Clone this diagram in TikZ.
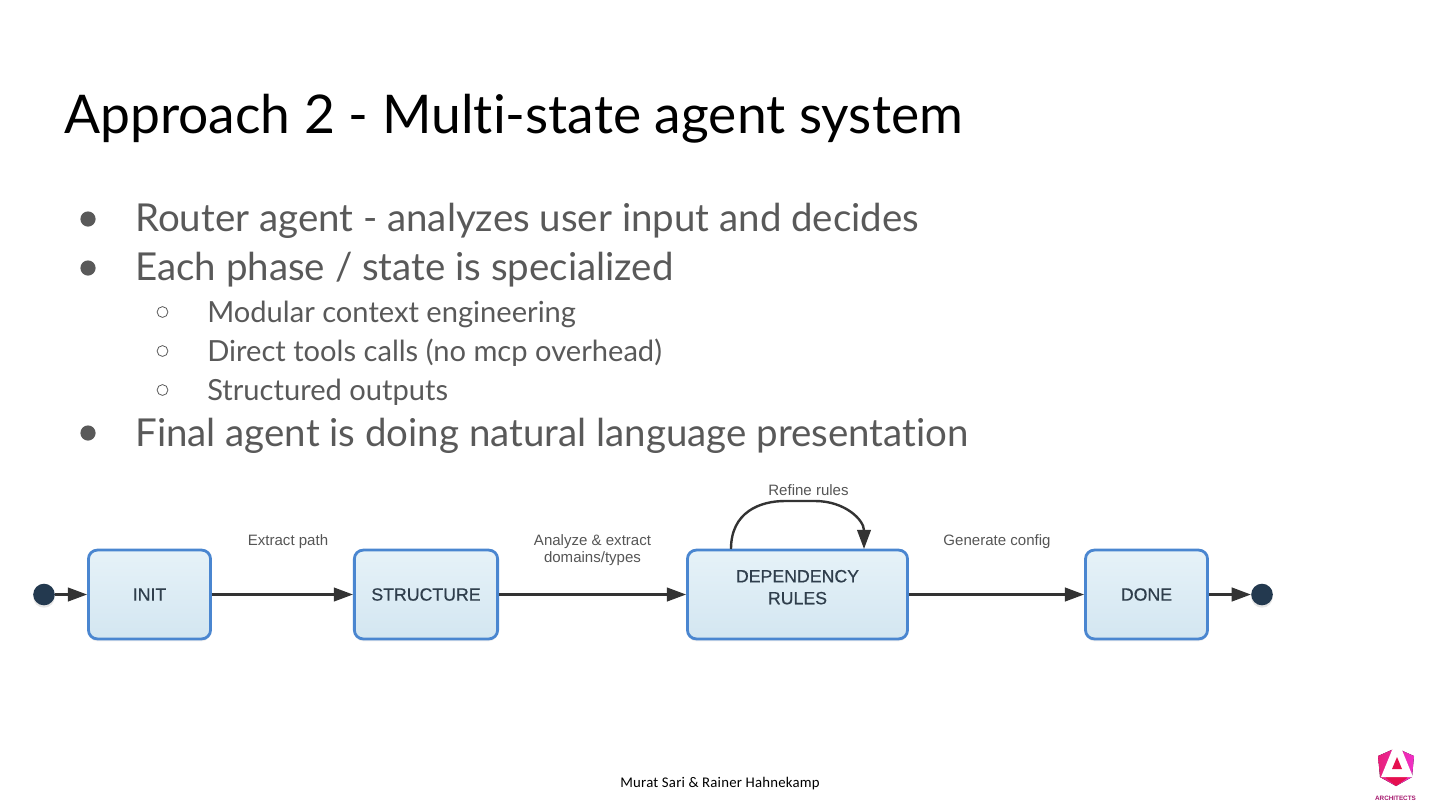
\documentclass[tikz,border=0pt]{standalone}
\usepackage{fontspec}
\setmainfont{Lato}[Ligatures=NoCommon]
\newfontfamily\diagramfont{Liberation Sans}
\newfontfamily\statefont{Liberation Sans}[FakeBold=0.6]
\newfontfamily\footerfont{Carlito}[LetterSpace=1.5]
\usepackage{tikz}
\usetikzlibrary{positioning,arrows.meta,shadows}
\definecolor{heading}{HTML}{000000}
\definecolor{bodytext}{HTML}{595959}
\definecolor{stateborder}{HTML}{4A86D0}
\definecolor{statetop}{HTML}{E6F2F8}
\definecolor{statebottom}{HTML}{D3E6F1}
\definecolor{statetext}{HTML}{2F3E4C}
\definecolor{dotfill}{HTML}{23394F}
\definecolor{edgeline}{HTML}{333333}
\definecolor{edgetext}{HTML}{555555}
\definecolor{logopink}{HTML}{E8207A}
\definecolor{logomagenta}{HTML}{F030C8}
\definecolor{logored}{HTML}{E5104F}
\definecolor{logoviolet}{HTML}{A5186E}

\begin{document}
\begin{tikzpicture}[
    x=0.025cm, y=-0.025cm,
    statenode/.style={rectangle, rounded corners=2.2mm, draw=stateborder,
      top color=statetop, bottom color=statebottom, line width=0.7mm,
      minimum height=2.22cm, align=center, text=statetext,
      font=\statefont\fontsize{12.6}{15.6}\selectfont,
      drop shadow={shadow xshift=0pt, shadow yshift=-0.6mm, opacity=0.12}},
    enddot/.style={circle, fill=dotfill, minimum size=0.54cm, inner sep=0pt,
      drop shadow={shadow xshift=0pt, shadow yshift=-0.6mm, opacity=0.2}},
    flow/.style={-{Triangle[length=4.8mm, width=3.4mm]}, line width=0.6mm, edgeline},
    edgelabel/.style={text=edgetext, align=center,
      font=\diagramfont\fontsize{10.7}{12.2}\selectfont},
    bigbullet/.style={circle, fill=bodytext, minimum size=0.38cm, inner sep=0pt},
    smallbullet/.style={circle, draw=bodytext, line width=0.2mm, minimum size=0.27cm, inner sep=0pt},
    mainitem/.style={anchor=base west, inner sep=0pt, text=bodytext, font=\fontsize{27.35}{30}\selectfont},
    subitem/.style={anchor=base west, inner sep=0pt, text=bodytext, font=\fontsize{20.7}{24}\selectfont},
  ]
  \useasboundingbox (0,0) rectangle (1440,810);

  % Title and bullet list
  \node[anchor=base west, inner sep=0pt, text=heading, font=\fontsize{37.95}{44}\selectfont]
    (title) at (64,133) {Approach 2 - Multi-state agent system};

  \node[bigbullet] (dot1) at (88,219) {};
  \node[mainitem] (item1) at (135,231) {Router agent - analyzes user input and decides};
  \node[bigbullet] (dot2) at (88,268) {};
  \node[mainitem] (item2) at (135,280) {Each phase / state is specialized};
  \node[smallbullet] (sub1) at (162.5,312) {};
  \node[subitem] (text1) at (207,322) {Modular context engineering};
  \node[smallbullet] (sub2) at (162.5,351) {};
  \node[subitem] (text2) at (207,361) {Direct tools calls (no mcp overhead)};
  \node[smallbullet] (sub3) at (162.5,390) {};
  \node[subitem] (text3) at (207,400) {Structured outputs};
  \node[bigbullet] (dot3) at (88,433) {};
  \node[mainitem] (item3) at (135,446) {Final agent is doing natural language presentation};

  % State machine
  \node[enddot] (start) at (44,594.5) {};
  \node[statenode, minimum width=3.05cm] (init) at (149.5,594.5) {INIT};
  \node[statenode, minimum width=3.58cm] (structure) at (426,594.5) {STRUCTURE};
  \node[statenode, minimum width=5.5cm, text depth=0.37cm] (rules) at (797.5,594.5) {DEPENDENCY\\RULES};
  \node[statenode, minimum width=3.05cm] (done) at (1146.5,594.5) {DONE};
  \node[enddot] (stop) at (1262,594.5) {};

  \draw[flow] (start) -- (init);
  \draw[flow] (init) -- (structure);
  \draw[flow] (structure) -- (rules);
  \draw[flow] (rules) -- (done);
  \draw[flow] (done) -- (stop);
  \coordinate (loopout) at (731,549);
  \coordinate (loopin) at (864,549);
  \draw[flow] (loopout) .. controls (731,512) and (760,501) .. (785,501)
    -- (815,501) .. controls (845,501) and (864,520) .. (loopin);

  \node[edgelabel] (lblpath) at (288,541.5) {Extract path};
  \node[edgelabel] (lbltypes) at (592.5,550) {Analyze \& extract\\domains/types};
  \node[edgelabel] (lblrefine) at (808.5,490.5) {Refine rules};
  \node[edgelabel] (lblconfig) at (997,541.5) {Generate config};

  % Footer and logo
  \node[text=black, font=\footerfont\fontsize{10.5}{13}\selectfont] (footer) at (720,784) {Murat Sari \& Rainer Hahnekamp};

  \fill[left color=logopink, right color=logomagenta] (1378,756) -- (1396,748) -- (1414,756) -- (1412,777) -- (1396,786) -- (1380,777) -- cycle;
  \fill[logored] (1386,775) -- (1407,775) -- (1407,778) -- (1396,786) -- (1386,778) -- cycle;
  \fill[white] (1397,738) -- (1381,777) -- (1413,777) -- cycle;
  \fill[logored] (1397,757) -- (1392,769) -- (1402,769) -- cycle;
  \node[text=logoviolet, inner sep=0pt, font=\diagramfont\bfseries\fontsize{4.5}{6}\selectfont] (logotext) at (1395.5,798.5) {ARCHITECTS};
\end{tikzpicture}
\end{document}
